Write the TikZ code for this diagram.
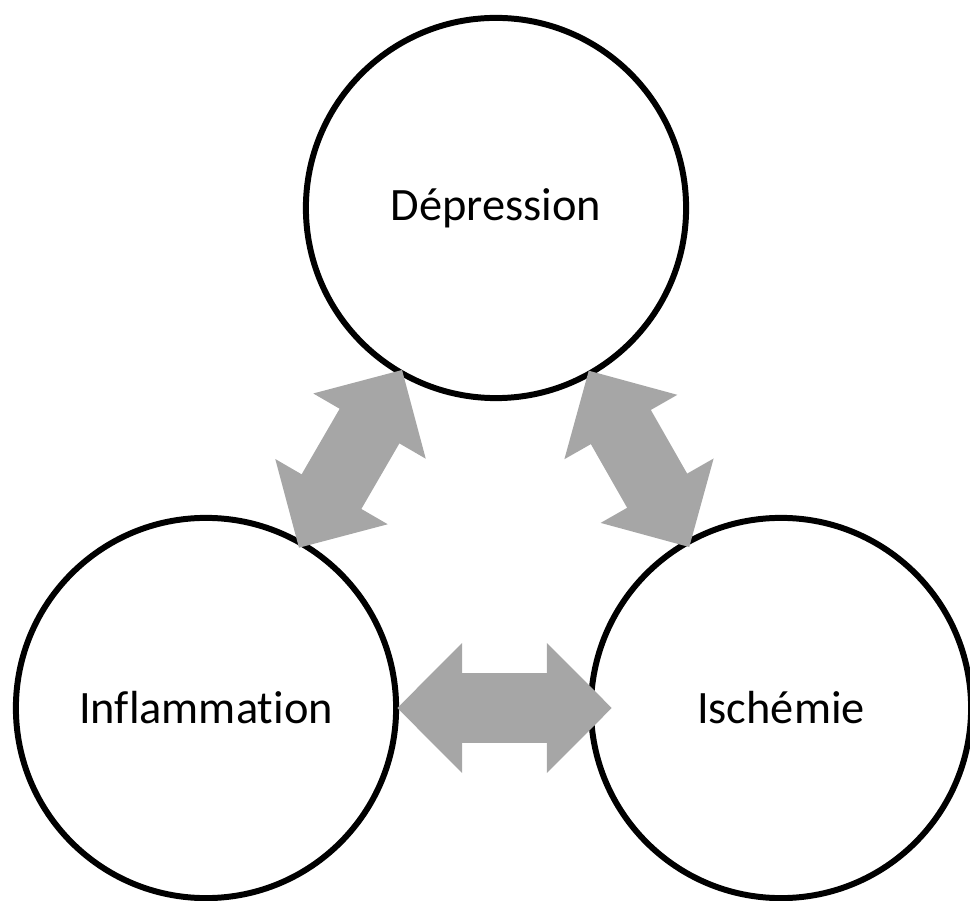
\documentclass[tikz,border=0pt]{standalone}
\usepackage{fontspec}
\setmainfont{Carlito}[Ligatures=NoCommon]
\usetikzlibrary{arrows.meta}
\definecolor{linkgray}{HTML}{A6A6A6}

\tikzset{
  topic/.style={circle, draw=black, line width=1.7pt, fill=white,
                minimum size=3.8cm, inner sep=0pt, font=\fontsize{13.2}{15}\selectfont},
  link/.style={draw=linkgray, line width=0.69cm,
               {Triangle[length=0.65cm, width=1.26cm]}-{Triangle[length=0.65cm, width=1.26cm]}}
}

\begin{document}
\begin{tikzpicture}[x=0.01cm, y=0.01cm]
    \useasboundingbox (0,0) rectangle (970,900);

    % Draw the circles
    \node[topic] (dep)  at (496,692) {Dépression};
    \node[topic] (infl) at (206,192) {Inflammation};
    \node[topic] (isch) at (781,192) {Ischémie};

    % Connect them with the fat arrows
    \draw[link, shorten <=-0.08cm, shorten >=-0.06cm] (infl) -- (dep);
    \draw[link, shorten <=-0.06cm, shorten >=-0.08cm] (dep) -- (isch);
    \draw[link, shorten <=-0.02cm, shorten >=-0.24cm] (infl) -- (isch);
\end{tikzpicture}
\end{document}
